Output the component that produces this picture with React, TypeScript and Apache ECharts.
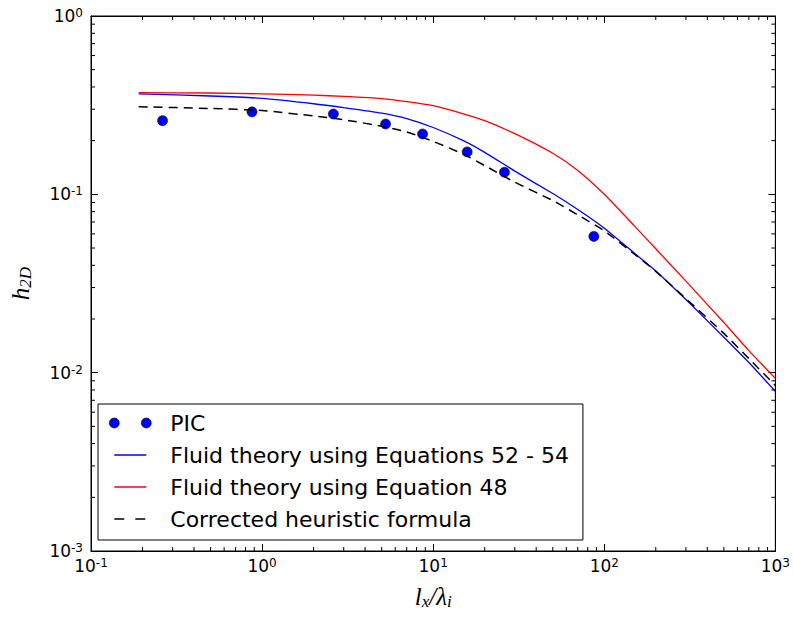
import React, { useEffect, useRef } from 'react';
import * as echarts from 'echarts';

// PIC simulation points
const picX = [0.262, 0.873, 2.61, 5.27, 8.67, 15.8, 26.1, 86.9];
const picY = [0.259, 0.29, 0.282, 0.248, 0.218, 0.173, 0.133, 0.0581];

// Curves sampled at these l_x / lambda_i values
const curveX = [0.19, 0.5, 1, 2, 3, 5, 7, 10, 15, 20, 30, 50, 70, 100, 150, 200, 300, 500, 700, 1000];
const fluid5254 = [0.366, 0.356, 0.345, 0.322, 0.306, 0.285, 0.266, 0.237, 0.2, 0.172, 0.135, 0.101, 0.0822, 0.0646, 0.0468, 0.0372, 0.0257, 0.0158, 0.0114, 0.00785];
const fluid48 = [0.372, 0.37, 0.366, 0.36, 0.354, 0.344, 0.331, 0.314, 0.283, 0.259, 0.219, 0.17, 0.136, 0.1, 0.0665, 0.0495, 0.0326, 0.0191, 0.0133, 0.00929];
const heuristic = [0.31, 0.303, 0.295, 0.275, 0.262, 0.241, 0.224, 0.198, 0.168, 0.145, 0.117, 0.0923, 0.0767, 0.0624, 0.0462, 0.037, 0.026, 0.0166, 0.012, 0.00847];

// Minor tick positions
const xMinorTicks = [0.2, 0.3, 0.4, 0.5, 0.6, 0.7, 0.8, 0.9, 2, 3, 4, 5, 6, 7, 8, 9, 20, 30, 40, 50, 60, 70, 80, 90, 200, 300, 400, 500, 600, 700, 800, 900];
const yMinorTicks = [0.002, 0.003, 0.004, 0.005, 0.006, 0.007, 0.008, 0.009, 0.02, 0.03, 0.04, 0.05, 0.06, 0.07, 0.08, 0.09, 0.2, 0.3, 0.4, 0.5, 0.6, 0.7, 0.8, 0.9];

const seriesNames = [
  'PIC',
  'Fluid theory using Equations 52 - 54',
  'Fluid theory using Equation 48',
  'Corrected heuristic formula',
];

const picIcon = 'path://M0,5a5,5 0 1,0 10,0a5,5 0 1,0 -10,0zM32,5a5,5 0 1,0 10,0a5,5 0 1,0 -10,0z';
const lineIcon = 'path://M0,0M5,4.3h32v1.4h-32zM42,10';
const dashIcon = 'path://M0,0M5,4.25h10v1.5h-10zM26,4.25h10v1.5h-10zM42,10';

const powLabel = (v: number) => {
  const e = Math.round(Math.log10(v));
  return '{b|10}{s|' + e + '}';
};

const tickRich = {
  b: { fontFamily: 'DejaVu Sans', fontSize: 17, color: '#000', lineHeight: 18 },
  s: { fontFamily: 'DejaVu Sans', fontSize: 12, color: '#000', lineHeight: 10, verticalAlign: 'top' },
};

const mathRich = {
  i: { fontFamily: 'Liberation Serif', fontStyle: 'italic', fontSize: 25, color: '#000', lineHeight: 26, verticalAlign: 'top' },
  sb: { fontFamily: 'Liberation Serif', fontStyle: 'italic', fontSize: 17, color: '#000', lineHeight: 16, verticalAlign: 'bottom' },
};

const tickStyle = { show: true, inside: true, length: 7, lineStyle: { color: '#000', width: 1 } };

export default function App() {
  const ref = useRef<HTMLDivElement>(null);
  useEffect(() => {
    if (!ref.current) return;
    const chart = echarts.init(ref.current, undefined, { renderer: 'svg' });
    const minorX = (params: any, api: any) => {
      const p = api.coord([api.value(0), api.value(1)]);
      const cs = params.coordSys;
      const x = p[0];
      const st = { stroke: '#000', lineWidth: 1 };
      return {
        type: 'group',
        children: [
          { type: 'line', shape: { x1: x, y1: cs.y + cs.height, x2: x, y2: cs.y + cs.height - 4 }, style: st },
          { type: 'line', shape: { x1: x, y1: cs.y, x2: x, y2: cs.y + 4 }, style: st },
        ],
      };
    };
    const minorY = (params: any, api: any) => {
      const p = api.coord([api.value(0), api.value(1)]);
      const cs = params.coordSys;
      const y = p[1];
      const st = { stroke: '#000', lineWidth: 1 };
      return {
        type: 'group',
        children: [
          { type: 'line', shape: { x1: cs.x, y1: y, x2: cs.x + 4, y2: y }, style: st },
          { type: 'line', shape: { x1: cs.x + cs.width, y1: y, x2: cs.x + cs.width - 4, y2: y }, style: st },
        ],
      };
    };
    const lineCommon = { symbol: 'none', smooth: 0.2, xAxisIndex: 0, yAxisIndex: 0 };
    chart.setOption({
      animation: false,
      backgroundColor: '#fff',
      grid: { left: 88, right: 15, top: 16, bottom: 67, show: true, borderColor: '#000', borderWidth: 1, containLabel: false },
      xAxis: [
        {
          type: 'log', logBase: 10, min: 0.1, max: 1000, position: 'bottom',
          axisLine: { show: true, lineStyle: { color: '#000', width: 1 } },
          axisTick: tickStyle,
          splitLine: { show: false },
          axisLabel: { margin: 6, formatter: powLabel, rich: tickRich },
          name: '{i|l}{sb|x}{i|/λ}{sb|i}',
          nameLocation: 'middle', nameGap: 33,
          nameTextStyle: { rich: mathRich },
        },
        {
          type: 'log', logBase: 10, min: 0.1, max: 1000, position: 'top',
          axisLine: { show: true, lineStyle: { color: '#000', width: 1 } },
          axisTick: tickStyle, splitLine: { show: false }, axisLabel: { show: false },
        },
      ],
      yAxis: [
        {
          type: 'log', logBase: 10, min: 0.001, max: 1, position: 'left',
          axisLine: { show: true, lineStyle: { color: '#000', width: 1 } },
          axisTick: tickStyle,
          splitLine: { show: false },
          axisLabel: { margin: 8, formatter: powLabel, rich: tickRich },
          name: '{i|h}{sb|2D}',
          nameLocation: 'middle', nameGap: 57, nameRotate: 90,
          nameTextStyle: { rich: mathRich },
        },
        {
          type: 'log', logBase: 10, min: 0.001, max: 1, position: 'right',
          axisLine: { show: true, lineStyle: { color: '#000', width: 1 } },
          axisTick: tickStyle, splitLine: { show: false }, axisLabel: { show: false },
        },
      ],
      legend: {
        orient: 'vertical', left: 98, top: 404,
        padding: [8, 14, 10, 11],
        itemWidth: 42, itemHeight: 10, itemGap: 10,
        backgroundColor: '#fff', borderColor: '#000', borderWidth: 1, borderRadius: 0,
        selectedMode: false, z: 10,
        itemStyle: { borderWidth: 0 },
        textStyle: { fontFamily: 'DejaVu Sans', fontSize: 22, color: '#000', lineHeight: 22, padding: [0, 0, 0, 14] },
        data: [
          { name: seriesNames[0], icon: picIcon, itemStyle: { borderWidth: 0.6, borderColor: '#000' } },
          { name: seriesNames[1], icon: lineIcon },
          { name: seriesNames[2], icon: lineIcon },
          { name: seriesNames[3], icon: dashIcon },
        ],
      },
      series: [
        {
          name: seriesNames[0], type: 'scatter', xAxisIndex: 0, yAxisIndex: 0,
          data: picX.map((x, i) => [x, picY[i]]),
          symbol: 'circle', symbolSize: 10,
          itemStyle: { color: '#0000ff', borderColor: '#000', borderWidth: 0.6, opacity: 1 },
        },
        {
          ...lineCommon, name: seriesNames[1], type: 'line',
          data: curveX.map((x, i) => [x, fluid5254[i]]),
          color: '#0000ff', lineStyle: { color: '#0000ff', width: 1.3 },
        },
        {
          ...lineCommon, name: seriesNames[2], type: 'line',
          data: curveX.map((x, i) => [x, fluid48[i]]),
          color: '#ff0000', lineStyle: { color: '#ff0000', width: 1.3 },
        },
        {
          ...lineCommon, name: seriesNames[3], type: 'line',
          data: curveX.map((x, i) => [x, heuristic[i]]),
          color: '#000000', lineStyle: { color: '#000000', width: 1.5, type: [9, 6] },
        },
        {
          name: 'xminor', type: 'custom', xAxisIndex: 0, yAxisIndex: 0, silent: true,
          data: xMinorTicks.map((v) => [v, 1]), renderItem: minorX, z: 5,
        },
        {
          name: 'yminor', type: 'custom', xAxisIndex: 0, yAxisIndex: 0, silent: true,
          data: yMinorTicks.map((v) => [1, v]), renderItem: minorY, z: 5,
        },
      ],
    });
    return () => chart.dispose();
  }, []);
  return <div ref={ref} style={{ position: 'absolute', left: 0, top: 0, width: 793, height: 618 }} />;
}
